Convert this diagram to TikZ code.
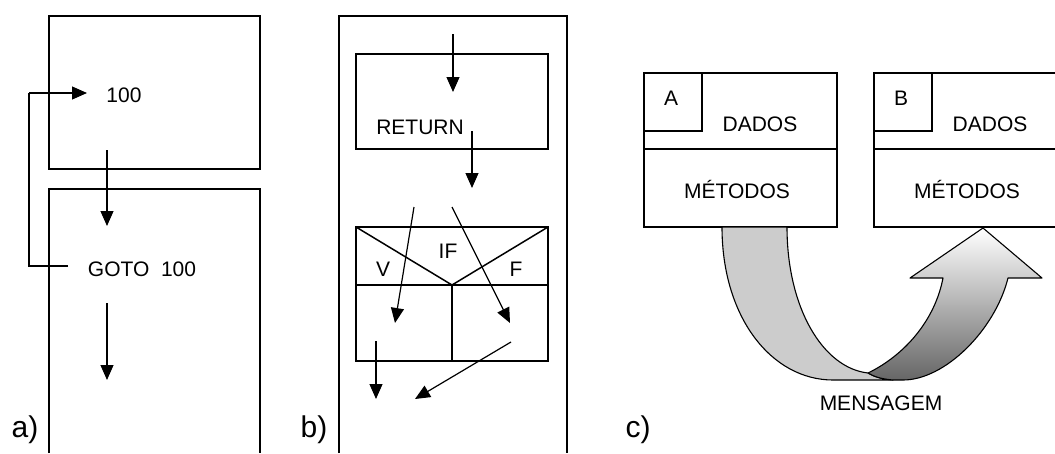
\documentclass[tikz,border=0pt]{standalone}
\usepackage{fontspec}
\setmainfont{Liberation Sans}
\usetikzlibrary{arrows.meta}

\begin{document}
\begin{tikzpicture}[x=1pt, y=-1pt,
  box/.style   = {line width=1.5pt},
  arrow/.style = {line width=1.2pt, -{Triangle[length=15pt,width=13pt]}},
  lbl/.style   = {font=\fontsize{21}{25}\selectfont, inner sep=0pt, anchor=base},
  tag/.style   = {font=\fontsize{30}{36}\selectfont, inner sep=0pt, anchor=base},
  band/.style  = {line width=1.1pt, line join=round},
]
  \useasboundingbox (0,0) rectangle (1055,453);

  % a) the jump: two program blocks, GOTO back up
  \draw[box] (49,16) rectangle (260,169);
  \draw[box] (49,453) |- (260,189) -- (260,453);
  \node[lbl] (lab100) at (124,102) {100};
  \node[lbl] (goto)   at (142,276) {GOTO\ \ 100};
  \coordinate (gotoOut) at (68,266);
  \coordinate (into100) at (87,93);
  \coordinate (loopx)   at (29,0);
  \draw[line width=1.2pt] (gotoOut) -| (loopx |- into100);
  \draw[arrow] (loopx |- into100) -- (into100);
  \coordinate (a1s) at (107,150); \coordinate (a1e) at (107,226);
  \coordinate (a2s) at (107,303); \coordinate (a2e) at (107,380);
  \draw[arrow] (a1s) -- (a1e);
  \draw[arrow] (a2s) -- (a2e);
  \node[tag] (tagA) at (25,437) {a)};

  % b) structured blocks: RETURN and the IF split
  \draw[box] (339,453) |- (567,16) -- (567,453);
  \draw[box] (356,54) rectangle (548,149);
  \node[lbl] (ret) at (420,134) {RETURN};
  \draw[box] (356,227) rectangle (548,361);
  \draw[box] (356,285) -- (548,285);
  \draw[box] (356,227) -- (452,285) -- (548,227);
  \draw[box] (452,285) -- (452,361);
  \node[lbl] (cond) at (448,258) {IF};
  \node[lbl] (yes)  at (383,276) {V};
  \node[lbl] (no)   at (516,276) {F};
  \coordinate (b1s) at (453,34);  \coordinate (b1e) at (453,92);
  \coordinate (b2s) at (472,131); \coordinate (b2e) at (472,188);
  \coordinate (b3s) at (414,207); \coordinate (b3e) at (395,323);
  \coordinate (b4s) at (452,207); \coordinate (b4e) at (510,323);
  \coordinate (b5s) at (376,341); \coordinate (b5e) at (376,399);
  \coordinate (b6s) at (511,342); \coordinate (b6e) at (415,399);
  \foreach \i in {1,...,6}
    \draw[arrow] (b\i s) -- (b\i e);
  \node[tag] (tagB) at (314,437) {b)};

  % c) two objects and the message between them
  \foreach \x/\n in {644/A, 874/B} {
    \draw[box] (\x,73) rectangle ++(193,154);
    \draw[box] (\x,149) -- ++(193,0);
    \draw[box] (\x,73) rectangle ++(58,58);
    \node[lbl] (obj\n)  at (\x+27,105)  {\n};
    \node[lbl] (dat\n)  at (\x+116,131) {DADOS};
    \node[lbl] (met\n)  at (\x+93,198)  {MÉTODOS};
  }
  \draw[band, fill=black!20]
    (722,227) .. controls (722,318) and (772,380) .. (833,380) -- (893,380)
    .. controls (880,379) and (873,376) .. (868,373)
    .. controls (823,368) and (787,308) .. (787,227) -- cycle;
  \draw[band, top color=white, bottom color=black!60]
    (868,373) .. controls (905,355) and (935,320) .. (943,278)
    -- (910,278) -- (983,228) -- (1042,278) -- (1008,278)
    .. controls (995,330) and (945,380) .. (903,380) -- (893,380)
    .. controls (880,379) and (873,376) .. (868,373) -- cycle;
  \node[lbl] (msg) at (881,410) {MENSAGEM};
  \node[tag] (tagC) at (638,437) {c)};
\end{tikzpicture}
\end{document}
